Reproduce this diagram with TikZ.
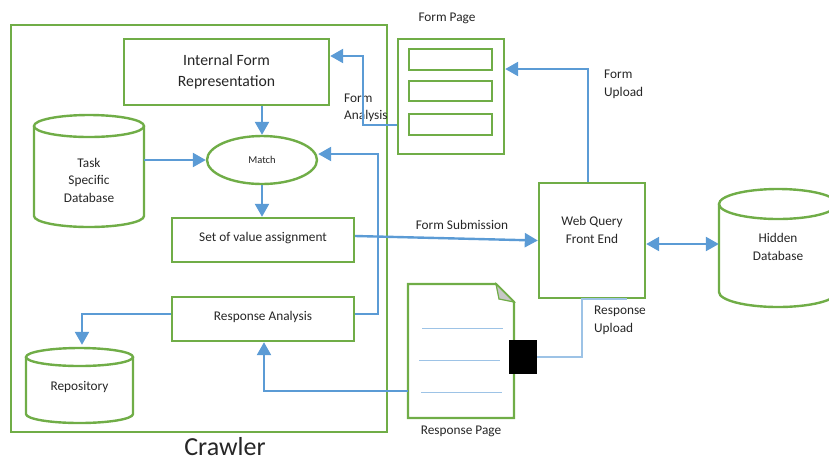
\documentclass[tikz,border=0pt]{standalone}
\usepackage{fontspec}
\setmainfont{Carlito}
\usetikzlibrary{arrows.meta,shapes.geometric}
\definecolor{gr}{HTML}{70AD47}
\definecolor{bl}{HTML}{5B9BD5}
\definecolor{lbl}{HTML}{9DC3E6}
\definecolor{txt}{HTML}{262626}
\begin{document}
\begin{tikzpicture}[x=1pt,y=-1pt,
  gline/.style={draw=gr,line width=2.4pt},
  gbox/.style={draw=gr,line width=2.4pt,rectangle,inner sep=0pt},
  ghost/.style={rectangle,inner sep=0pt,draw=none},
  lab/.style={font=\fontsize{13.3}{17.5}\selectfont,text=txt,align=center,inner sep=0pt},
  llab/.style={font=\fontsize{13.3}{17.5}\selectfont,text=txt,align=left,inner sep=0pt,anchor=west},
  flow/.style={draw=bl,line width=2.4pt,-{Triangle[length=13pt,width=14pt]}},
  bflow/.style={draw=bl,line width=2.4pt,{Triangle[length=13pt,width=14pt]}-{Triangle[length=13pt,width=14pt]}},
  thin/.style={draw=lbl,line width=1.5pt},
  docline/.style={draw=lbl,line width=1pt}]
\useasboundingbox (0,0) rectangle (829,459);
\clip (0,0) rectangle (829,459);

% Crawler container
\node[gbox,minimum width=376pt,minimum height=407pt] (crawler) at (199,228.5) {};
\node[font=\fontsize{26}{30}\selectfont,text=txt,anchor=base,inner sep=0pt] (crawlerlbl) at (225,455) {Crawler};

% Internal Form Representation
\node[gbox,minimum width=205pt,minimum height=66pt,font=\fontsize{15.7}{21}\selectfont,text=txt,align=center] (ifr) at (226.5,72) {Internal Form\\Representation};

% Task specific database (cylinder)
\node[ghost,minimum width=110pt,minimum height=112pt] (task) at (89,171) {};
\draw[gline] (34,126) -- (34,216) arc[start angle=180,end angle=0,x radius=55,y radius=11] -- (144,126);
\draw[gline] (89,126) ellipse[x radius=55,y radius=11];
\node[lab] (tasklbl) at (89,180) {Task\\Specific\\Database};

% Match
\node[ellipse,draw=gr,line width=2.4pt,inner sep=0pt,minimum width=110pt,minimum height=48pt,font=\fontsize{10.5}{12}\selectfont,text=txt] (match) at (262,160) {Match};

% Set of value assignment
\node[gbox,minimum width=182pt,minimum height=44pt] (set) at (263,240) {};
\node[lab] (setlbl) at (263,238) {Set of value assignment};

% Response Analysis
\node[gbox,minimum width=182pt,minimum height=44pt] (ra) at (263,319) {};
\node[lab] (ralbl) at (263,317) {Response Analysis};

% Repository (cylinder)
\node[ghost,minimum width=107pt,minimum height=75pt] (repo) at (79.5,385.5) {};
\draw[gline] (26,357) -- (26,414) arc[start angle=180,end angle=0,x radius=53.5,y radius=9] -- (133,357);
\draw[gline] (79.5,357) ellipse[x radius=53.5,y radius=9];
\node[lab] (repolbl) at (79.5,387) {Repository};

% Form Page
\node[gbox,minimum width=106pt,minimum height=115pt] (fp) at (451,96.5) {};
\node[gbox,minimum width=83pt,minimum height=21pt] (f1) at (450.5,59.5) {};
\node[gbox,minimum width=83pt,minimum height=20pt] (f2) at (450.5,91) {};
\node[gbox,minimum width=83pt,minimum height=21pt] (f3) at (450.5,124.5) {};
\node[lab] (fplbl) at (447,18) {Form Page};

% Web Query Front End
\node[gbox,minimum width=106pt,minimum height=115pt] (web) at (592,240.5) {};
\node[lab] (weblbl) at (592,230) {Web Query\\Front End};

% Hidden Database (cylinder)
\node[ghost,minimum width=118pt,minimum height=118pt] (hidden) at (778,248) {};
\draw[gline] (719,204) -- (719,292) arc[start angle=180,end angle=0,x radius=59,y radius=15] -- (837,204);
\draw[gline] (778,204) ellipse[x radius=59,y radius=15];
\node[lab] (hiddenlbl) at (778,247) {Hidden\\Database};

% Response Page (document)
\node[ghost,minimum width=106pt,minimum height=134pt] (resp) at (461,351) {};
\draw[gline,line join=miter] (408,284) -- (496,284) -- (514,302) -- (514,418) -- (408,418) -- cycle;
\draw[draw=gr,line width=1.2pt,fill=black!22] (496,284) -- (499,299) -- (514,302) -- cycle;
\draw[docline] (422,328) -- (503,328);
\draw[docline] (419,360) -- (500,360);
\draw[docline] (421,392) -- (502,392);
\node[lab] (resplbl) at (461,431) {Response Page};
\node[rectangle,fill=black,inner sep=0pt,minimum width=28pt,minimum height=34pt] (blk) at (523,357) {};

% labels
\node[llab] (falbl) at (344,108) {Form\\Analysis};
\node[llab] (fulbl) at (604,84.5) {Form\\Upload};
\node[llab] (rulbl) at (594,320.5) {Response\\Upload};
\node[lab] (fslbl) at (462,225) {Form Submission};

% connectors
\coordinate (c1) at (378,154);
\coordinate (c2) at (363,56);
\draw[flow] (match.north |- ifr.south) -- (match.north);
\draw[flow] (task.east |- match.west) -- (match.west);
\draw[flow] (match.south) -- (match.south |- set.north);
\draw[flow] ([yshift=5pt]ra.east) -| (c1) -- (c1 -| match.east);
\draw[flow] ([yshift=5pt]ra.west) -| ([xshift=2.5pt,yshift=3pt]repo.north);
\draw[flow] ([yshift=-40pt]resp.west) -| ([xshift=1pt]ra.south);
\draw[flow] ([yshift=-28.5pt]fp.west) -| (c2) -- (c2 -| ifr.east);
\draw[flow] ([xshift=-4pt]web.north) |- ([yshift=27.5pt]fp.east);
\draw[flow] ([yshift=4pt]set.east) -- (web.west);
\draw[bflow] ([yshift=-3.5pt]web.east) -- ([yshift=-3.5pt]web.east -| hidden.west);
\draw[thin] (blk.east) -| ([xshift=-10pt]web.south) -- ([xshift=35pt]web.south);
\end{tikzpicture}
\end{document}
